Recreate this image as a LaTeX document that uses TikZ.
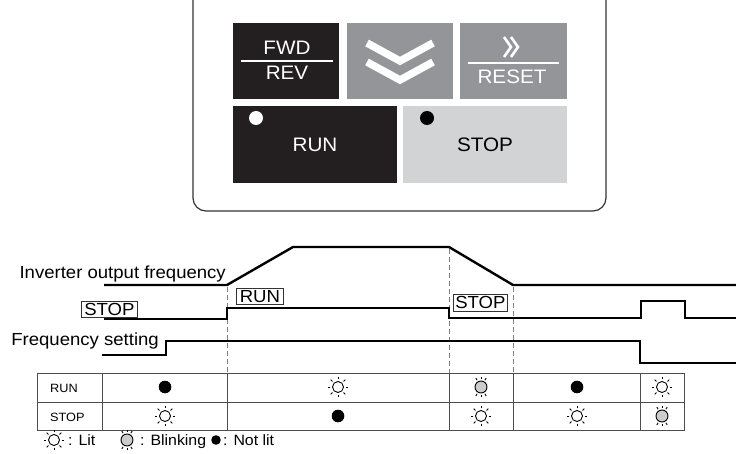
\documentclass[tikz,border=0pt]{standalone}
\usepackage{fontspec}
\setmainfont{Liberation Sans}[FakeStretch=1.06]
\definecolor{btndark}{HTML}{231F20}
\definecolor{btnmid}{HTML}{939598}
\definecolor{btnlight}{HTML}{D1D3D4}
\definecolor{framec}{HTML}{333333}
\definecolor{tablec}{HTML}{4D4D4D}
\definecolor{blinkc}{HTML}{CCCCCC}
\begin{document}
\begin{tikzpicture}[x=1pt,y=-1pt,
  btnbox/.style={inner sep=0, anchor=north west},
  btntext/.style={text=white, font=\fontsize{19.5}{21}\selectfont, inner sep=0, anchor=base},
  btntextd/.style={text=black, font=\fontsize{19.5}{21}\selectfont, inner sep=0, anchor=base},
  lbl/.style={font=\fontsize{17.5}{19}\selectfont, inner sep=0, anchor=base east},
  boxlbl/.style={draw=framec, line width=0.8, font=\fontsize{17.5}{19}\selectfont, inner sep=0, anchor=north west},
  sig/.style={line width=2.4, line join=miter},
  guide/.style={dash pattern=on 5pt off 3pt, line width=1, draw=gray},
  cell/.style={font=\fontsize{12}{13}\selectfont, inner sep=0, anchor=base west},
  legtext/.style={font=\fontsize{15}{16}\selectfont, inner sep=0, anchor=base west},
  litpic/.pic={
    \draw[line width=0.9] (0,0) circle (5.5);
    \foreach \a in {0,45,...,315} \draw[line width=0.9] (\a:7.8) -- (\a:10.3);
  },
  blinkpic/.pic={
    \draw[line width=0.9, fill=blinkc] (0,0) circle (6);
    \foreach \a in {60,90,120,240,270,300} \draw[line width=0.9] (\a:7.8) -- (\a:10.3);
  },
  offpic/.pic={
    \fill (0,0) circle (6.3);
  }
]
\useasboundingbox (0,0) rectangle (736,454);
\fill[white] (0,0) rectangle (736,454);

% panel frame
\draw[framec, line width=1.2, rounded corners=13] (193,0) -- (193,211) -- (606,211) -- (606,0);

% buttons
\node[btnbox, fill=btndark, minimum width=106, minimum height=76] (fwd) at (233,23) {};
\node[btnbox, fill=btnmid, minimum width=106, minimum height=76] (down) at (347,23) {};
\node[btnbox, fill=btnmid, minimum width=107, minimum height=76] (reset) at (460,23) {};
\node[btnbox, fill=btndark, minimum width=164, minimum height=77] (run) at (233,106) {};
\node[btnbox, fill=btnlight, minimum width=164, minimum height=77] (stop) at (403,106) {};

\node[btntext] (fwdt) at (287,55) {FWD};
\draw[white, line width=1.2] (241,61) -- (333,61);
\node[btntext] (revt) at (287,80) {REV};

\draw[white, line width=7.5, line join=miter] (367,43) -- (400,61) -- (433,43);
\draw[white, line width=7.5, line join=miter] (367,62) -- (400,80) -- (433,62);

\draw[white, line width=2.6, line join=miter] (504,37) -- (511,47) -- (504,57);
\draw[white, line width=2.6, line join=miter] (511,37) -- (518,47) -- (511,57);
\draw[white, line width=1.2] (468,63) -- (559,63);
\node[btntext] (resett) at (512,84) {RESET};

\fill[white] (256,118) circle (7);
\fill[black] (427,118) circle (7);
\node[btntext] (runt) at (315,152) {RUN};
\node[btntextd] (stopt) at (485,152) {STOP};

% timing diagram labels
\node[lbl] (invl) at (226,279) {Inverter output frequency};
\node[lbl] (freql) at (159,345) {Frequency setting};
\node[boxlbl, minimum width=56, minimum height=16] (stopb) at (81,301) {STOP};
\node[boxlbl, minimum width=47, minimum height=16] (runb) at (236,288) {RUN};
\node[boxlbl, minimum width=54, minimum height=17] (stopb2) at (453,294) {STOP};

% guides
\draw[guide] (227,287) -- (227,373);
\draw[guide] (449,249) -- (449,373);
\draw[guide] (513,287) -- (513,373);

% signals
\draw[sig] (104,285) -- (227,285) -- (293,247) -- (449,247) -- (513,285) -- (736,285);
\draw[sig] (104,319) -- (227,319) -- (227,308) -- (449,308) -- (449,318) -- (641,318) -- (641,301) -- (685,301) -- (685,318) -- (736,318);
\draw[sig] (102,355) -- (166,355) -- (166,341) -- (640,341) -- (640,363) -- (736,363);

% table
\draw[tablec, line width=1] (37,373) rectangle (684,430);
\draw[tablec, line width=1] (37,402) -- (684,402);
\foreach \x in {102,227,449,513,640} \draw[tablec, line width=1] (\x,373) -- (\x,430);
\node[cell] (rrun) at (50,392) {RUN};
\node[cell] (rstop) at (50,421) {STOP};

\pic at (165,387) {offpic};
\pic at (338,387) {litpic};
\pic at (481,387) {blinkpic};
\pic at (577,387) {offpic};
\pic at (662,387) {litpic};

\pic at (165,416) {litpic};
\pic at (338,416) {offpic};
\pic at (481,416) {litpic};
\pic at (577,416) {litpic};
\pic at (662,416) {blinkpic};

% legend
\pic at (54,440) {litpic};
\node[legtext] (leglit) at (68,445) {: Lit};
\pic at (127,440) {blinkpic};
\node[legtext] (legblink) at (140,445) {: Blinking};
\fill (216,440) circle (4.8);
\node[legtext] (legoff) at (223,445) {: Not lit};
\end{tikzpicture}
\end{document}
